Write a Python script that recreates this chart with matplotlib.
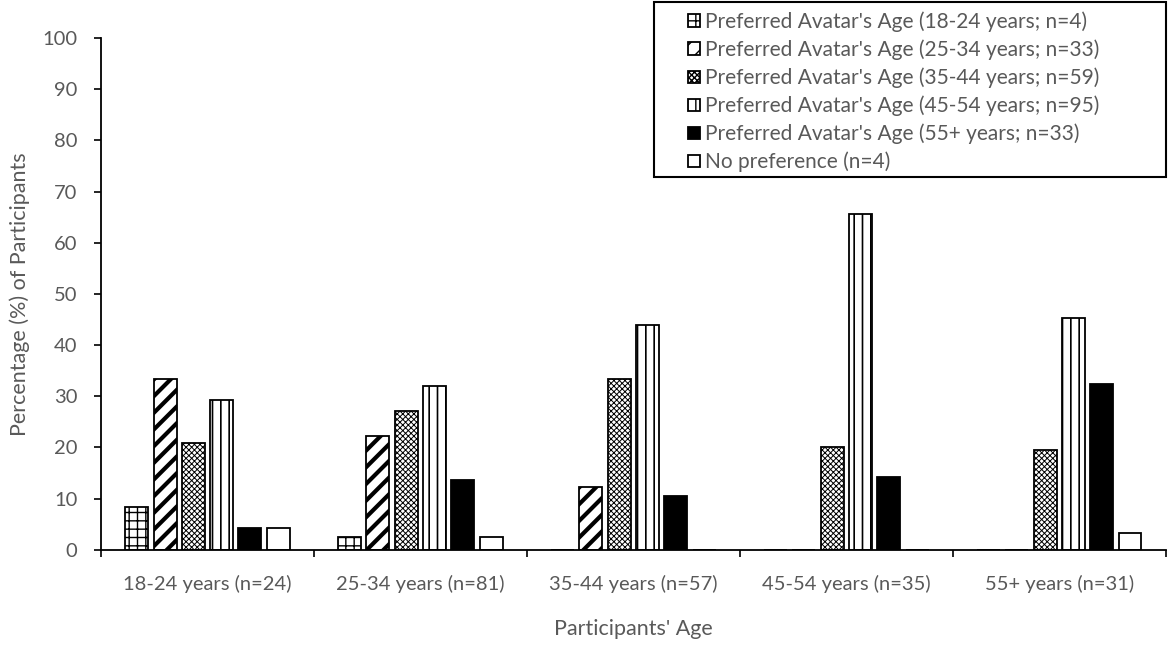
import numpy as np
import matplotlib
matplotlib.use('Agg')
import matplotlib.pyplot as plt
from matplotlib.patches import Rectangle

# ── Data ────────────────────────────────────────────────────────────────────
categories = ['18-24 years (n=24)', '25-34 years (n=81)', '35-44 years (n=57)',
              '45-54 years (n=35)', '55+ years (n=31)']

series_labels = ["Preferred Avatar's Age (18-24 years; n=4)",
                 "Preferred Avatar's Age (25-34 years; n=33)",
                 "Preferred Avatar's Age (35-44 years; n=59)",
                 "Preferred Avatar's Age (45-54 years; n=95)",
                 "Preferred Avatar's Age (55+ years; n=33)",
                 "No preference (n=4)"]

pref_18_24 = [8.3, 2.5, 0.0, 0.0, 0.0]
pref_25_34 = [33.3, 22.2, 12.3, 0.0, 0.0]
pref_35_44 = [20.8, 27.2, 33.3, 20.0, 19.4]
pref_45_54 = [29.2, 32.1, 43.9, 65.7, 45.2]
pref_55 = [4.2, 13.6, 10.5, 14.3, 32.3]
no_pref = [4.2, 2.5, 0.0, 0.0, 3.2]

y_ticks = list(range(0, 101, 10))

# ── Style ───────────────────────────────────────────────────────────────────
TXT = '#595959'
plt.rcParams['font.family'] = ['Lato', 'DejaVu Sans']

series = [pref_18_24, pref_25_34, pref_35_44, pref_45_54, pref_55, no_pref]
styles = [  # (face, hatch, hatch linewidth)
    ('white', '++', 1.0),
    ('white', '//', 3.0),
    ('white', 'xxxxxx', 0.7),
    ('white', '||', 1.2),
    ('black', '', 1.0),
    ('white', '', 1.0),
]

fig = plt.figure(figsize=(11.68, 6.46), dpi=100)
ax = fig.add_axes([0.0865, 0.149, 0.9115, 0.792])

x = np.arange(len(categories))
stride = 0.133
width = 0.108
offsets = (np.arange(len(series)) - (len(series) - 1) / 2) * stride

for vals, (face, hatch, hlw), off, lab in zip(series, styles, offsets, series_labels):
    with plt.rc_context({'hatch.linewidth': hlw, 'hatch.color': 'black'}):
        ax.bar(x + off, vals, width, facecolor=face, edgecolor='black',
               linewidth=1.3, hatch=hatch, label=lab)

ax.set_xlim(-0.5, len(categories) - 0.5)
ax.set_ylim(0, 100)
ax.set_yticks(y_ticks)
ax.set_xticks(x)
ax.set_xticklabels(categories)
ax.set_xticks(np.arange(len(categories) + 1) - 0.5, minor=True)
ax.tick_params(axis='x', which='major', length=0, pad=18, labelsize=14.5, colors=TXT)
ax.tick_params(axis='x', which='minor', length=5, width=1.2, color='black')
ax.tick_params(axis='y', length=5, width=1.2, color='black', labelsize=14.5,
               labelcolor=TXT, pad=12)

for sp in ['top', 'right']:
    ax.spines[sp].set_visible(False)
for sp in ['left', 'bottom']:
    ax.spines[sp].set_linewidth(1.3)

ax.set_ylabel('Percentage (%) of Participants', fontsize=15.5, color=TXT, labelpad=9)
ax.set_xlabel("Participants' Age", fontsize=15.5, color=TXT, labelpad=19)

leg = ax.legend(loc='upper left', bbox_to_anchor=(678 / 1168, 1 - 1 / 646),
                bbox_transform=fig.transFigure, fontsize=15, frameon=False,
                handlelength=0.55, handleheight=0.55, handletextpad=0.25,
                labelspacing=0.36, borderpad=0, labelcolor=TXT)
# legend frame wider than the entries
fig.patches.append(Rectangle((654 / 1168, 1 - 177 / 646), 512 / 1168, 175 / 646,
                             transform=fig.transFigure, fill=False,
                             edgecolor='black', linewidth=1.5))

fig.savefig('out.png', dpi=100)
